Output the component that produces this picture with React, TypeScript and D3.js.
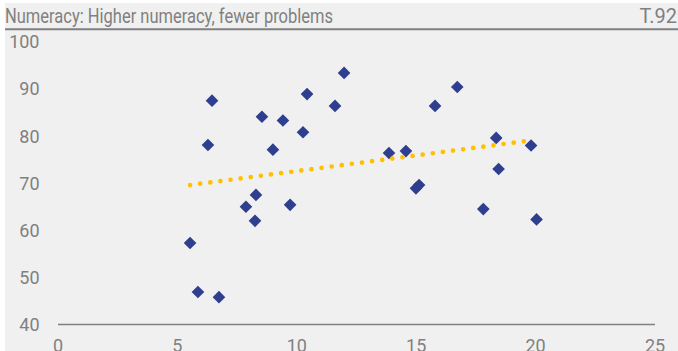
import React from "react";
import * as d3 from "d3";

// scatter values
const xValues = [
  5.53, 5.86, 6.74, 6.28, 6.45, 7.87, 8.25, 8.29, 8.54, 9.0, 9.42, 9.72, 10.26,
  10.43, 11.6, 11.98, 13.86, 14.57, 14.99, 15.12, 15.79, 16.72, 18.35, 18.45,
  19.81, 17.81, 20.04,
];
const yValues = [
  57.3, 46.9, 45.8, 78.1, 87.5, 65.0, 62.0, 67.5, 84.1, 77.1, 83.3, 65.4, 80.8,
  88.9, 86.4, 93.4, 76.4, 76.8, 68.9, 69.6, 86.4, 90.4, 79.6, 73.0, 78.0, 64.5,
  62.3,
];

// linear trend endpoints
const trendX = [5.53, 19.7];
const trendY = [69.6, 79.0];

const xTicks = [0, 5, 10, 15, 20, 25];
const yTicks = [40, 50, 60, 70, 80, 90, 100];

const title = "Numeracy: Higher numeracy, fewer problems";
const code = "T.92";

const W = 678;
const H = 351;

const App: React.FC = () => {
  const x = d3.scaleLinear().domain([0, 25]).range([58, 655]);
  const y = d3.scaleLinear().domain([40, 100]).range([324.5, 41.8]);

  const diamond = d3.symbol(d3.symbolSquare, 80)() as string;
  const trendLine = d3
    .line<number>()
    .x((d) => x(d))
    .y((_, i) => y(trendY[i]));

  const grey = "#808080";

  return (
    <svg
      width={W}
      height={H}
      style={{ position: "absolute", left: 0, top: 0, fontFamily: "Roboto, sans-serif" }}
    >
      <rect x={5} y={3} width={W - 5} height={H - 3} fill="#f0f0f0" />

      {/* header */}
      <text x={5} y={22.7} fontSize={20} fill={grey} textLength={328} lengthAdjust="spacingAndGlyphs">
        {title}
      </text>
      <text x={677} y={22.7} fontSize={20} fill={grey} textAnchor="end">
        {code}
      </text>
      <line x1={5} x2={W} y1={29.3} y2={29.3} stroke={grey} strokeWidth={2} />

      {/* y tick labels */}
      {yTicks.map((t) => (
        <text key={"y" + t} x={39.5} y={y(t)} dy="0.36em" fontSize={18} fill={grey} textAnchor="end">
          {t}
        </text>
      ))}

      {/* x axis */}
      <line x1={x(0)} x2={x(25)} y1={y(40)} y2={y(40)} stroke={grey} strokeWidth={1.3} />
      {xTicks.map((t) => (
        <text key={"x" + t} x={x(t)} y={352.3} fontSize={18} fill={grey} textAnchor="middle">
          {t}
        </text>
      ))}

      {/* points */}
      {xValues.map((v, i) => (
        <path
          key={"p" + i}
          d={diamond}
          fill="#2e3f8f"
          transform={`translate(${x(v)},${y(yValues[i])}) rotate(45)`}
        />
      ))}

      {/* trend */}
      <path
        d={trendLine(trendX) as string}
        fill="none"
        stroke="#ffc000"
        strokeWidth={4.7}
        strokeLinecap="round"
        strokeDasharray="0 10.2"
      />
    </svg>
  );
};

export default App;
